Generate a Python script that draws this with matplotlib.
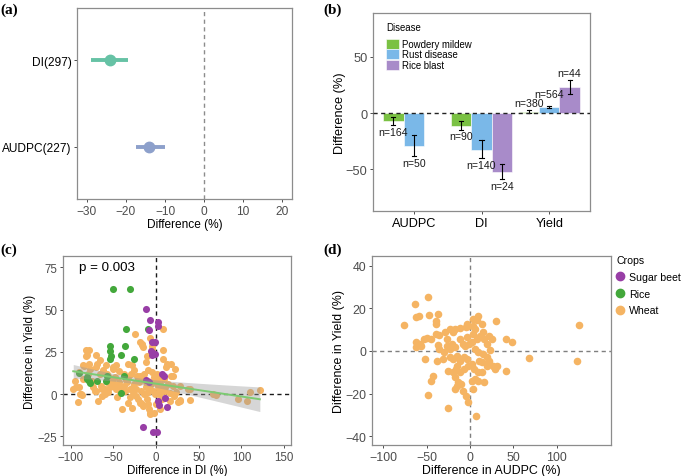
import numpy as np
import matplotlib
matplotlib.use("Agg")
import matplotlib.pyplot as plt
from matplotlib.lines import Line2D
from matplotlib.patches import Patch

plt.rcParams['font.family'] = ['Liberation Sans', 'DejaVu Sans']

# ---------------- data ----------------
# (a)
a_labels = ["AUDPC(227)", "DI(297)"]
a_mean = [-14.0, -24.0]
a_low = [-17.5, -29.0]
a_high = [-10.0, -19.5]

# (b)
b_cats = ["AUDPC", "DI", "Yield"]
b_diseases = ["Powdery mildew", "Rust disease", "Rice blast"]
b_vals = {
    "Powdery mildew": [-7.4, -11.2, 1.2],
    "Rust disease": [-29.4, -32.4, 5.3],
    "Rice blast": [np.nan, -52.0, 23.5],
}
b_err_low = {
    "Powdery mildew": [-10.6, -14.7, -0.3],
    "Rust disease": [-38.2, -39.7, 4.4],
    "Rice blast": [np.nan, -58.8, 17.0],
}
b_err_high = {
    "Powdery mildew": [-3.8, -7.4, 2.6],
    "Rust disease": [-19.0, -24.0, 5.9],
    "Rice blast": [np.nan, -45.6, 29.4],
}
b_n = {
    "Powdery mildew": ["n=164", "n=90", "n=380"],
    "Rust disease": ["n=50", "n=140", "n=564"],
    "Rice blast": [None, "n=24", "n=44"],
}

# (c)
rice_di = [-50.5, -30.3, -35.7, -9.2, -54.4, -36.5, -53.7, -53.3, -40.8, -26.0,
           -53.5, -90.6, -80.6, -79.0, -77.0, -69.0, -59.0, -57.0, -40.8, -81.0, -38.0]
rice_yield = [62.2, 62.2, 38.5, 38.5, 28.6, 28.6, 25.7, 22.7, 23.0, 21.0,
              21.0, 12.5, 10.0, 8.0, 6.5, 8.0, 7.5, 10.5, 0.4, 9.0, 11.0]
beet_di = [-12.3, -6.9, 2.1, 1.9, -8.4, -4.6, -1.5, -5.6, -4.0, -1.0, -5.3, 7.1,
           9.5, -12.3, -8.3, 2.0, 4.0, 10.0, 12.6, -15.4, -3.8, 0.9]
beet_yield = [50.3, 44.0, 42.4, 40.5, 38.0, 31.0, 31.0, 25.7, 24.4, 23.7, 23.0, 11.9,
              11.0, 8.5, 7.0, -4.0, -6.5, -2.3, -7.9, -19.7, -22.6, -22.3]
wheat_di = [-92, -90, -89, -87, -82, -78, -85, -79, -69.6, -65.7, -67.6, -72, -58, -50, -47,
            -25, -32.5, -34.5, -19, -17, -15, -11, -5, 7.6, 8.4, 12.3, 18, 22, 28, 39.6, 40,
            28, 67, 70, 96, 106, 110, 121.5, -40, -9, -19, -7, -2.5, 4.5, -23, -15, -27,
            -93.4, -88, -82.5, -81, -84, -70, -70, -62, -59, -50.5, -43.5, -70, -63.5, -54,
            -47.5, -50.5, -31, -28.3, -25.5, -19.3, -16.4, -21, -13.6, -17.4, -15.5, -8.4,
            -6.9, -12, -7, -5, 8, 12, 17.7, 19.6, 15.8, 21.5, 4, -1.7, -6.6, 0.3, -20, -27,
            -35, -37.5, -12, 3, -4.5, -10, -8, -3, 2, 6, 10, -30, -45, -42, -55, -38, -60,
            -75, -80, -95, 37.5, 27.8, 25.8,
            -65, -60, -57, -52, -48, -44, -41, -36, -33, -29, -26, -24, -22, -18, -16, -14,
            -12, -10, -9, -6, -4, -2, 1, 3, 5, 7, 9, 11, 14, 16, 20, 23, -33, -28, -21, -11,
            0, -46, -56, -74, -86, -90, -77, -66, -97, -63]
wheat_dyield = [-4.5, 4, 0, -0.5, 22.7, 26, 17, 18, 18, 12, -4, 2, 7, 15, 17,
                35.4, 17.8, 7, 11, 29, 27.7, 22.7, 26.7, 38.5, 26.3, 17.8, 11, 15, 5, 3, -3.3,
                -4.3, 0, -0.5, -3, -4, 1.4, 2.6, -9, -6, -5, -11, -11, -9, -1, -7, 1,
                4, -0.2, 26.3, 23, 16.4, 23.4, 16, 14, 17.5, 16, 13.5, 2, 3, 4,
                3, 6, 3, 17.2, 14, 30.6, 29.7, 9, 0, -5, -6.4, -8.6,
                -11.8, 18.8, 33, 28.5, 21, 15.8, 17.8, 11, 0.6, -1.4, 3, 0, 3, 7, 7, 4.5,
                8.5, 5, 4, 9.8, 13.2, 8, 5, 10, 5, 1, 4, -2, 5, 2, 10, 12, 0,
                8, 12, 8, 3, -3.3, -4.8,
                5, 3, 12, 8, 10, 7, 4, 2, 10, 12, 6, 3, 11, 2, 9, 12,
                7, 1, 14, 6, 2, 8, 12, 0, 6, -3, 9, 2, 6, -4, 5, 1, -5, -8, -3, -3,
                -6, -2, 1, 4, 9, 13, 15, 20, 3, -1]
# linear fit (ggplot geom_smooth, method = lm)
fit_intercept = 6.17
fit_slope = -0.0758
p_text = "p = 0.003"

# (d)
wheat_audpc = [-76.2, -63, -62.3, -59, -48.5, -47.7, -36.5, -39, -39.6, -62.3, -62.3, -57.7,
               -52.7, -50, -45.4, -52, -56, -39.6, -35.4, -36.5, -35.8, -38.5, -42.3, -45.4,
               -48, -25.8, -28.5, -26, -23, -19.2, -17.3, -11.5, -4.6, -1.9, -27, -23, -21,
               -17, -11.5, -8.5, -5.8, -0.8, -23, -19.2, -14.6, -11.5, -7, -3.8, -25, -20,
               -16, -11.5, -17.3, -13.5, -15.4, -10.8, -17.3, -8.5, -4.6, -2.7, 3, 7, 2,
               5.8, 9.6, 4.6, 9.6, 13.5, 16.2, 19.2, 21.9, 27, 28.8, 31.5, 41.5, 3.8, 9.6,
               7.7, 3.8, -3.8, 5.8, 13.5, 15.4, 11.5, 7.7, 16.2, 19.2, 22.3, 25, 5.8, 9.6,
               15.4, 19.2, 23, 10.8, 13.5, 41.5, 48, 29.6, 68.5, 123.8, 126, 3.8, 2, -3.8,
               -1.9, 2, -7, -14.6, -30.8, -30]
wheat_yield_d = [12.3, 22, 15.8, 16.6, 25.2, 16.9, 17.3, 14.2, 12.7, 4, 2, 3.3,
                 5.6, 6, 5.6, -4, 2.2, 8, 7.5, 2.8, 0.9, -4.8, -11.9, -13.9,
                 -20.6, -26.7, 8.8, 5.6, 10.3, 8.8, 10.3, 10.6, 11.4, 11.9, 2.5, 0.9, 3.3,
                 1.7, 5.6, 3.3, 2.5, 3.3, -3, -3.75, -2.2, -4.5, -3, -4, -9.2, -10,
                 -8.4, -10, -12.3, -14.7, -16.25, -15.5, -17.8, -19, -21, -24, -18, -30.3, -13.9,
                 -13.1, -13.9, -8.4, -10, -10, -14.7, -6.9, -4.5, -6.9, -8.4, -6.9, -9.2, 15, 16.6,
                 14.7, 11.9, 12.7, 10.3, 12.7, 8.8, 7.2, 5.6, 5.6, 3.3, 7.2, 5.6, 0.9, -0.6,
                 -1.4, -3, 0.2, -4.5, -5.3, 5.6, 4, 14.2, -3.3, -4.5, 12.2, 8, 4, 6.4,
                 -6.9, -6.1, -8.4, -6.9, -3.75, -0.6]

crop_names = ["Sugar beet", "Rice", "Wheat"]

# ---------------- styling ----------------
W, H = 685, 477
fig = plt.figure(figsize=(W / 100, H / 100), dpi=100)

def rect(l, r, t, b):
    return [l / W, 1 - b / H, (r - l) / W, (b - t) / H]

TICKC = '#4D4D4D'
SPINEC = '#8C8C8C'

def style(ax, fs):
    for s in ax.spines.values():
        s.set_color(SPINEC)
        s.set_linewidth(0.9)
    ax.tick_params(colors=TICKC, labelcolor=TICKC, labelsize=fs, length=2.5, width=0.7, pad=1.5)

col_rice = '#43A83B'
col_beet = '#983EA6'
col_wheat = '#F5B463'

# ---------------- (a) ----------------
FSA = 8.6
axa = fig.add_axes(rect(77, 292, 9, 200))
style(axa, FSA)
a_cols = ['#8DA0CB', '#66C2A5']
ypos = np.arange(1, len(a_labels) + 1)
for i in range(len(a_labels)):
    axa.plot([a_low[i], a_high[i]], [ypos[i], ypos[i]], color=a_cols[i], lw=2.8, solid_capstyle='butt')
    axa.plot(a_mean[i], ypos[i], 'o', color=a_cols[i], ms=7.5)
axa.axvline(0, color='#8C8C8C', ls=(0, (3, 2.5)), lw=1.0)
axa.set_xlim(-32.5, 22.5)
axa.set_ylim(0.4, 2.6)
axa.set_yticks(ypos)
axa.set_yticklabels(a_labels, color='black')
axa.set_xticks([-30, -20, -10, 0, 10, 20])
axa.set_xlabel("Difference (%)", fontsize=FSA, labelpad=1)

# ---------------- (b) ----------------
FSB = 9.2
axb = fig.add_axes(rect(373, 590, 14, 212))
style(axb, FSB)
b_cols = {"Powdery mildew": '#7AC143', "Rust disease": '#7AB8E8', "Rice blast": '#A88BC9'}
bw = 0.3
xc = np.arange(1, len(b_cats) + 1)
for j, d in enumerate(b_diseases):
    for i in range(len(b_cats)):
        v = b_vals[d][i]
        if np.isnan(v):
            continue
        x = xc[i] + (j - 1) * bw
        axb.bar(x, v, width=bw, color=b_cols[d], edgecolor='white', linewidth=0.4, zorder=2)
        axb.plot([x, x], [b_err_low[d][i], b_err_high[d][i]], color='black', lw=0.8, zorder=3)
        for yy in (b_err_low[d][i], b_err_high[d][i]):
            axb.plot([x - 0.03, x + 0.03], [yy, yy], color='black', lw=0.8, zorder=3)
        if v < 0:
            ty = b_err_low[d][i] - 6
        else:
            ty = b_err_high[d][i] + (11 if b_n[d][i] == "n=564" else 6)
        axb.text(x, ty, b_n[d][i], ha='center', va='center', fontsize=7.6, color='#1A1A1A', zorder=4)
axb.axhline(0, color='#222222', ls=(0, (3, 2.5)), lw=1.0, zorder=3)
axb.set_xlim(0.4, 3.6)
axb.set_ylim(-87, 89)
axb.set_xticks(xc)
axb.set_xticklabels(b_cats, color='black')
axb.set_yticks([-50, 0, 50])
axb.set_ylabel("Difference (%)", fontsize=FSB, labelpad=0)
handles = [Patch(facecolor=b_cols[d], edgecolor='white', linewidth=0.4, label=d) for d in b_diseases]
leg = axb.legend(handles=handles, title="Disease", loc='upper left', bbox_to_anchor=(0.035, 0.985),
                 frameon=False, fontsize=6.9, title_fontsize=6.9, handlelength=1.35, handleheight=1.25,
                 handletextpad=0.3, labelspacing=0.02, borderaxespad=0.2)
leg._legend_box.align = 'left'
leg._legend_box.sep = 5

# ---------------- (c) ----------------
FSC = 8.3
axc = fig.add_axes(rect(63, 291, 257, 446))
style(axc, FSC)
all_x = np.array(rice_di + beet_di + wheat_di, dtype=float)
all_y = np.array(rice_yield + beet_yield + wheat_dyield, dtype=float)
axc.axvline(0, color='#1A1A1A', ls=(0, (3, 2.5)), lw=1.0, zorder=1)
axc.axhline(0, color='#1A1A1A', ls=(0, (3, 2.5)), lw=1.0, zorder=1)
axc.scatter(wheat_di, wheat_dyield, s=26, color=col_wheat, linewidths=0, zorder=2)
axc.scatter(rice_di, rice_yield, s=26, color=col_rice, linewidths=0, zorder=2)
axc.scatter(beet_di, beet_yield, s=26, color=col_beet, linewidths=0, zorder=2)
# fitted line with 95% confidence band
n = len(all_x)
resid = all_y - (fit_intercept + fit_slope * all_x)
s_err = np.sqrt(np.sum(resid ** 2) / (n - 2))
xx = np.linspace(all_x.min(), all_x.max(), 100)
yy = fit_intercept + fit_slope * xx
se = s_err * np.sqrt(1 / n + (xx - all_x.mean()) ** 2 / np.sum((all_x - all_x.mean()) ** 2))
axc.fill_between(xx, yy - 1.97 * se, yy + 1.97 * se, color='#999999', alpha=0.4, linewidth=0, zorder=3)
axc.plot(xx, yy, color='#7CCB72', lw=1.4, zorder=4)
axc.text(-90, 75, p_text, fontsize=9.6, va='center', ha='left', color='black')
axc.set_xlim(-109, 158)
axc.set_ylim(-30.1, 81.7)
axc.set_xticks([-100, -50, 0, 50, 100, 150])
axc.set_yticks([-25, 0, 25, 50, 75])
axc.set_xlabel("Difference in DI (%)", fontsize=FSC, labelpad=1)
axc.set_ylabel("Difference in Yield (%)", fontsize=FSC, labelpad=1)

# ---------------- (d) ----------------
FSD = 8.9
axd = fig.add_axes(rect(372, 611, 257, 446))
style(axd, FSD)
axd.axvline(0, color='#7F7F7F', ls=(0, (3, 2.5)), lw=1.0, zorder=1)
axd.axhline(0, color='#7F7F7F', ls=(0, (3, 2.5)), lw=1.0, zorder=1)
axd.scatter(wheat_audpc, wheat_yield_d, s=30, color=col_wheat, linewidths=0, zorder=2)
axd.set_xlim(-113, 162.6)
axd.set_ylim(-44.1, 44.5)
axd.set_xticks([-100, -50, 0, 50, 100])
axd.set_yticks([-40, -20, 0, 20, 40])
axd.set_xlabel("Difference in AUDPC (%)", fontsize=FSD, labelpad=1)
axd.set_ylabel("Difference in Yield (%)", fontsize=FSD, labelpad=0)

crop_cols = [col_beet, col_rice, col_wheat]
ch = [Line2D([], [], marker='o', ls='', color=c, ms=6, label=nm) for nm, c in zip(crop_names, crop_cols)]
leg2 = fig.legend(handles=ch, title="Crops", loc='upper left', bbox_to_anchor=(612 / W, 1 - 252 / H),
                  frameon=False, fontsize=7.6, title_fontsize=7.6, handlelength=0.8, handletextpad=0.4,
                  labelspacing=0.62, borderaxespad=0.0)
leg2._legend_box.align = 'left'
leg2._legend_box.sep = 5

# panel labels
for lab, px, py in [("(a)", 0, 10), ("(b)", 323, 10), ("(c)", 0, 250), ("(d)", 323, 250)]:
    fig.text(px / W, 1 - py / H, lab, fontsize=11, fontweight='bold', family='Liberation Serif',
             ha='left', va='center')

fig.savefig("out.png", dpi=100)
